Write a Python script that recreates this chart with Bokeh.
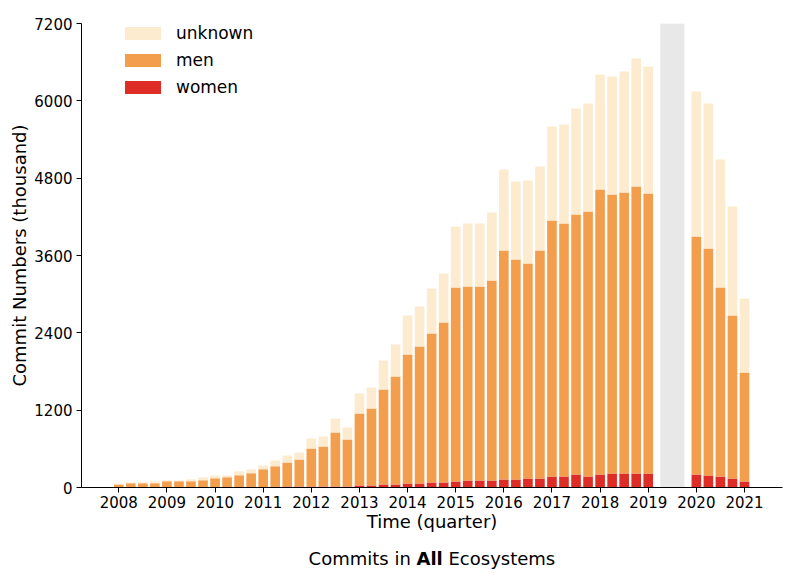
from bokeh.plotting import figure
from bokeh.layouts import column
from bokeh.models import (FixedTicker, Legend, LegendItem, BoxAnnotation,
                          ColumnDataSource, Range1d)
from bokeh.core.properties import value
from bokeh.embed import file_html
from bokeh.resources import INLINE

# ---------------- data (thousand commits per quarter) ----------------
quarters = [
    "2008Q1", "2008Q2", "2008Q3", "2008Q4",
    "2009Q1", "2009Q2", "2009Q3", "2009Q4",
    "2010Q1", "2010Q2", "2010Q3", "2010Q4",
    "2011Q1", "2011Q2", "2011Q3", "2011Q4",
    "2012Q1", "2012Q2", "2012Q3", "2012Q4",
    "2013Q1", "2013Q2", "2013Q3", "2013Q4",
    "2014Q1", "2014Q2", "2014Q3", "2014Q4",
    "2015Q1", "2015Q2", "2015Q3", "2015Q4",
    "2016Q1", "2016Q2", "2016Q3", "2016Q4",
    "2017Q1", "2017Q2", "2017Q3", "2017Q4",
    "2018Q1", "2018Q2", "2018Q3", "2018Q4",
    "2019Q1",
    "2020Q1", "2020Q2", "2020Q3", "2020Q4",
    "2021Q1",
]
women = [
    1, 1, 1, 1,
    2, 2, 2, 2,
    3, 3, 3, 3,
    4, 4, 16, 16,
    16, 16, 16, 16,
    31, 31, 47, 47,
    62, 62, 78, 78,
    93, 109, 109, 109,
    124, 124, 140, 140,
    171, 171, 202, 171,
    202, 217, 217, 217,
    217,
    202, 186, 171, 140,
    93,
]
men = [
    46, 66, 66, 66,
    96, 96, 96, 112,
    142, 157, 188, 217,
    278, 324, 372, 418,
    589, 620, 837, 729,
    1117, 1195, 1474, 1675,
    2002, 2126, 2312, 2482,
    3010, 3010, 3010, 3103,
    3554, 3414, 3336, 3538,
    3972, 3926, 4034, 4112,
    4422, 4329, 4360, 4454,
    4345,
    3693, 3523, 2932, 2529,
    1691,
]
unknown = [
    15, 16, 16, 31,
    16, 11, 31, 46,
    41, 26, 62, 62,
    59, 91, 109, 109,
    155, 155, 218, 186,
    311, 326, 450, 497,
    605, 621, 698, 761,
    947, 978, 978, 1055,
    1256, 1210, 1288, 1303,
    1459, 1536, 1645, 1676,
    1785, 1832, 1878, 1986,
    1971,
    2250, 2250, 1987, 1691,
    1149,
]
missing_span = ("2019Q2", "2019Q4")   # quarters without data (grey band)

x_tick_labels = ["2008", "2009", "2010", "2011", "2012", "2013", "2014",
                 "2015", "2016", "2017", "2018", "2019", "2020", "2021"]
y_ticks = [0, 1200, 2400, 3600, 4800, 6000, 7200]

series_names = ["women", "men", "unknown"]
legend_labels = ["women", "men", "unknown"]
colors = ["#de2d26", "#f39e4c", "#fdebd0"]

caption_parts = ["Commits in", "All", "Ecosystems"]
caption_styles = ["normal", "bold", "normal"]


def qpos(q):
    return int(q[:4]) + (int(q[5]) - 1) / 4


xs = [qpos(q) for q in quarters]
src = ColumnDataSource(dict(x=xs, women=women, men=men, unknown=unknown))

FONT = "DejaVu Sans"

p = figure(width=792, height=535, output_backend="svg", toolbar_location=None,
           x_range=Range1d(2007.225, 2021.79), y_range=Range1d(0, 7200),
           min_border_left=81, min_border_right=10, min_border_top=23,
           min_border_bottom=48)
p.background_fill_color = "white"
p.border_fill_color = "white"
p.outline_line_color = None
p.xgrid.visible = False
p.ygrid.visible = False

# grey band for missing quarters
band = BoxAnnotation(left=qpos(missing_span[0]), right=qpos(missing_span[1]),
                     fill_color="#e8e8e8", fill_alpha=1.0,
                     line_color="#eeeeee", line_width=1, level="underlay")
p.add_layout(band)

rs = p.vbar_stack(series_names, x="x", width=0.2, source=src,
                  color=colors, line_color=None)

# axes
tick_years = [int(t) for t in x_tick_labels]
p.xaxis.ticker = FixedTicker(ticks=tick_years)
p.xaxis.major_label_overrides = {y: lab for y, lab in zip(tick_years, x_tick_labels)}
p.yaxis.ticker = FixedTicker(ticks=y_ticks)
p.yaxis.major_label_overrides = {t: str(t) for t in y_ticks}

for ax in (p.xaxis[0], p.yaxis[0]):
    ax.minor_tick_line_color = None
    ax.major_tick_in = 0
    ax.major_tick_out = 5
    ax.axis_line_color = "black"
    ax.major_tick_line_color = "black"
    ax.major_label_text_font = FONT
    ax.major_label_text_font_size = "15px"
    ax.major_label_text_color = "black"
    ax.axis_label_text_font = FONT
    ax.axis_label_text_font_size = "18px"
    ax.axis_label_text_font_style = "normal"
    ax.axis_label_text_color = "black"

p.xaxis.axis_label = "Time (quarter)"
p.yaxis.axis_label = "Commit Numbers (thousand)"
p.xaxis.major_label_standoff = 3
p.xaxis.axis_label_standoff = 0
p.yaxis.major_label_standoff = 4
p.yaxis.axis_label_standoff = 1

# legend (top to bottom: unknown, men, women)
items = [LegendItem(label=legend_labels[i], renderers=[rs[i]]) for i in (2, 1, 0)]
legend = Legend(items=items,
                location=(39, 390), glyph_width=45, glyph_height=16,
                label_height=20, spacing=7, padding=0, margin=0,
                label_standoff=11, border_line_color=None,
                background_fill_alpha=0,
                label_text_font=FONT, label_text_font_size="17px",
                label_text_color="black")
p.add_layout(legend)

# caption strip below the chart, with a bold word (x in page pixels)
cap = figure(width=792, height=41, output_backend="svg", toolbar_location=None,
             x_range=Range1d(81, 782), y_range=Range1d(0, 41),
             min_border_left=81, min_border_right=10,
             min_border_top=0, min_border_bottom=0)
cap.axis.visible = False
cap.grid.visible = False
cap.outline_line_color = None
cap.background_fill_color = "white"
cap.border_fill_color = "white"
cap_x = [410.3, 416, 448]
cap_align = ["right", "left", "left"]
for txt, cx, al, st in zip(caption_parts, cap_x, cap_align, caption_styles):
    cap.text(x=[cx], y=[18], text=[txt], text_align=al, text_baseline="middle",
             text_font=value(FONT), text_font_size="18px", text_font_style=st,
             text_color="black")

layout = column(p, cap, spacing=0)
open("out.html", "w").write(file_html(layout, INLINE))
